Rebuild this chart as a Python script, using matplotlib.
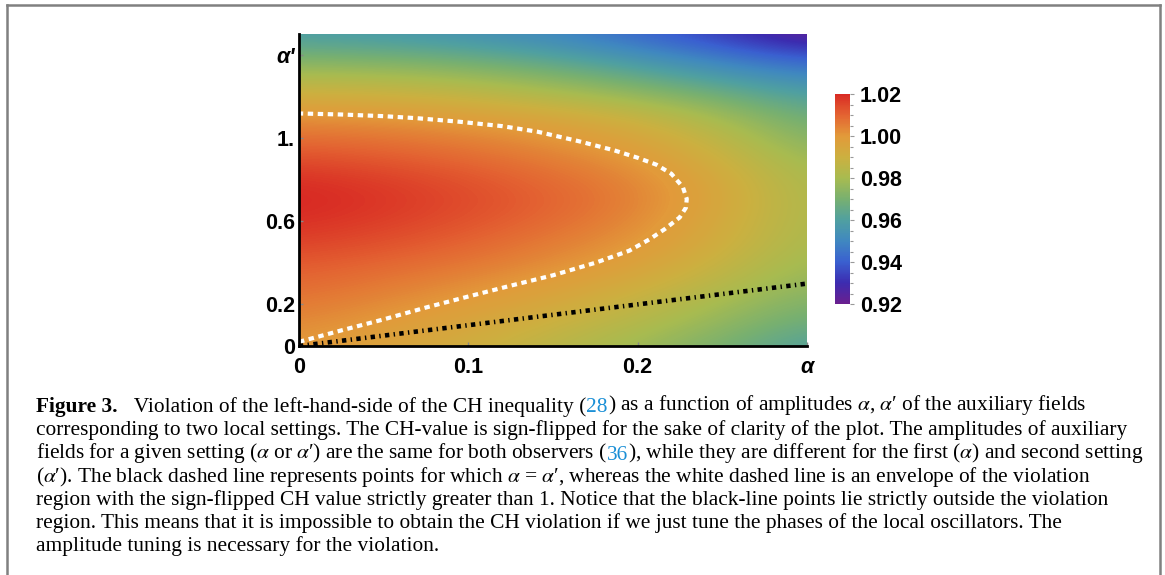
import matplotlib.pyplot as plt
from matplotlib.colors import LinearSegmentedColormap
from matplotlib.lines import Line2D
from matplotlib.ticker import MultipleLocator

# CH value (sign flipped) on a coarse grid
alpha = [0.0, 0.05, 0.1, 0.15, 0.2, 0.25, 0.3]
alpha_p = [0.0, 0.1, 0.2, 0.3, 0.4, 0.5, 0.6, 0.7, 0.8, 0.9, 1.0, 1.1, 1.2, 1.3, 1.4, 1.5]
ch_value = [
    [1.000, 0.996, 0.991, 0.985, 0.978, 0.970, 0.960],
    [1.003, 0.999, 0.9945, 0.989, 0.9825, 0.975, 0.966],
    [1.006, 1.0025, 0.9985, 0.9935, 0.987, 0.979, 0.971],
    [1.009, 1.006, 1.0025, 0.998, 0.992, 0.984, 0.975],
    [1.012, 1.0095, 1.0065, 1.0025, 0.997, 0.988, 0.978],
    [1.016, 1.0135, 1.010, 1.0055, 1.0005, 0.9915, 0.980],
    [1.019, 1.0165, 1.013, 1.0085, 1.003, 0.993, 0.981],
    [1.021, 1.018, 1.0145, 1.010, 1.0045, 0.9945, 0.981],
    [1.019, 1.0165, 1.013, 1.0085, 1.0035, 0.9935, 0.980],
    [1.014, 1.012, 1.009, 1.0052, 1.0003, 0.990, 0.977],
    [1.008, 1.0068, 1.0045, 1.0008, 0.9955, 0.9855, 0.972],
    [1.002, 1.0005, 0.998, 0.9945, 0.9885, 0.979, 0.967],
    [0.992, 0.991, 0.988, 0.983, 0.977, 0.969, 0.960],
    [0.981, 0.980, 0.977, 0.972, 0.965, 0.957, 0.950],
    [0.969, 0.968, 0.965, 0.960, 0.953, 0.945, 0.937],
    [0.959, 0.957, 0.954, 0.950, 0.942, 0.933, 0.921],
]

# white envelope (CH = 1)
env_alpha = [0.000, 0.025, 0.050, 0.075, 0.100, 0.125, 0.150, 0.175, 0.195, 0.207,
             0.216, 0.2248, 0.2285, 0.2290, 0.2267, 0.2199, 0.211, 0.200, 0.186,
             0.165, 0.141, 0.120, 0.095, 0.070, 0.050, 0.025, 0.000]
env_alpha_p = [0.020, 0.075, 0.128, 0.185, 0.238, 0.290, 0.340, 0.400, 0.458, 0.513,
               0.562, 0.618, 0.665, 0.707, 0.764, 0.828, 0.872, 0.905, 0.941,
               0.985, 1.030, 1.057, 1.078, 1.095, 1.105, 1.113, 1.118]

# black line alpha = alpha'
diag_alpha = [0.0, 0.3]
diag_alpha_p = [0.0, 0.3]

x_ticks = [0, 0.1, 0.2, 0.3]
x_labels = ['0', '0.1', '0.2', 'α']
y_ticks = [0, 0.2, 0.6, 1.0, 1.4]
y_labels = ['0', '0.2', '0.6', '1.', "α'"]
cbar_ticks = [0.92, 0.94, 0.96, 0.98, 1.00, 1.02]

rainbow = ['#6a1f8f', '#3c2cb0', '#3a60d0', '#4088c0', '#50a0a0', '#78b070',
           '#a8bb50', '#ccb040', '#e29a3a', '#e46432', '#d92b24']

plt.rcParams['font.family'] = 'Liberation Sans'
plt.rcParams['mathtext.fontset'] = 'stix'

W, H = 1165, 575
fig = plt.figure(figsize=(W / 100, H / 100), dpi=100)
ax = fig.add_axes([299 / W, 1 - 346 / H, 508 / W, 312 / H])

cmap = LinearSegmentedColormap.from_list('mma_rainbow', rainbow)
da = alpha[1] - alpha[0]
dap = alpha_p[1] - alpha_p[0]
img = ax.imshow(ch_value, origin='lower', aspect='auto', cmap=cmap, vmin=0.92, vmax=1.02,
                extent=[alpha[0] - da / 2, alpha[-1] + da / 2, alpha_p[0] - dap / 2, alpha_p[-1] + dap / 2],
                interpolation='bicubic')

ax.plot(env_alpha, env_alpha_p, color='white', lw=3.0, dashes=(1.3, 1.1), dash_capstyle='butt')
ax.plot(diag_alpha, diag_alpha_p, color='black', lw=3.3, dashes=(0.95, 0.95, 0.3, 0.95), dash_capstyle='butt')

ax.set_xlim(0, 0.3)
ax.set_ylim(0, 1.5)
for s in ['top', 'right']:
    ax.spines[s].set_visible(False)
for s in ['left', 'bottom']:
    ax.spines[s].set_linewidth(2)
ax.set_xticks(x_ticks)
ax.set_xticklabels(x_labels)
ax.set_yticks(y_ticks)
ax.set_yticklabels(y_labels)
ax.tick_params(direction='in', length=3, width=1, color='#888888', labelsize=15.5)
ax.tick_params(axis='x', pad=8)
ax.tick_params(axis='y', pad=3)
for t in ax.get_xticklabels() + ax.get_yticklabels():
    t.set_fontweight('bold')
ax.get_xticklabels()[-1].set_fontstyle('italic')
ax.get_yticklabels()[-1].set_fontstyle('italic')

cax = fig.add_axes([835 / W, 1 - 304 / H, 15 / W, 210 / H])
cb = fig.colorbar(img, cax=cax, ticks=cbar_ticks)
cb.outline.set_visible(False)
cb.ax.yaxis.set_minor_locator(MultipleLocator(0.005))
cb.ax.tick_params(which='both', direction='out', color='#999999', width=0.8, labelsize=15.5, pad=4)
cb.ax.tick_params(which='major', length=3)
cb.ax.tick_params(which='minor', length=2)
cb.ax.set_yticklabels(['%.2f' % v for v in cbar_ticks])
for t in cb.ax.get_yticklabels():
    t.set_fontweight('bold')

# caption
cap = fig.add_axes([0, 0, 1, 1])
cap.axis('off')
cap.set_xlim(0, W)
cap.set_ylim(H, 0)

blue = '#1a8fd6'
lines = [
    [('Figure 3.', 'k', 'bold'), ('   Violation of the left-hand-side of the CH inequality (', 'k', 'normal'),
     ('28', blue, 'normal'), (r') as a function of amplitudes $\alpha$, $\alpha$′ of the auxiliary fields', 'k', 'normal')],
    [('corresponding to two local settings. The CH-value is sign-flipped for the sake of clarity of the plot. The amplitudes of auxiliary', 'k', 'normal')],
    [(r'fields for a given setting ($\alpha$ or $\alpha$′) are the same for both observers (', 'k', 'normal'),
     ('36', blue, 'normal'), (r'), while they are different for the first ($\alpha$) and second setting', 'k', 'normal')],
    [(r'($\alpha$′). The black dashed line represents points for which $\alpha$ = $\alpha$′, whereas the white dashed line is an envelope of the violation', 'k', 'normal')],
    [('region with the sign-flipped CH value strictly greater than 1. Notice that the black-line points lie strictly outside the violation', 'k', 'normal')],
    [('region. This means that it is impossible to obtain the CH violation if we just tune the phases of the local oscillators. The', 'k', 'normal')],
    [('amplitude tuning is necessary for the violation.', 'k', 'normal')],
]
cap_size = 15.4
for i, segs in enumerate(lines):
    y = 412 + i * 23.2
    prev = None
    for txt, col, wt in segs:
        if prev is None:
            prev = cap.text(36, y, txt, color=col, fontweight=wt, fontsize=cap_size,
                            family='Liberation Serif', va='baseline', ha='left')
        else:
            prev = cap.annotate(txt, xy=(1, 0), xycoords=prev, color=col, fontweight=wt,
                                fontsize=cap_size, family='Liberation Serif', va='bottom', ha='left')

# panel frame
fc = '#808080'
fig.add_artist(Line2D([6.5 / W, 6.5 / W], [0, 1 - 5 / H], color=fc, lw=1.8))
fig.add_artist(Line2D([6.5 / W, 1160 / W], [1 - 5 / H, 1 - 5 / H], color=fc, lw=1.8))
fig.add_artist(Line2D([1160 / W, 1160 / W], [0, 1 - 5 / H], color=fc, lw=1.8))

fig.savefig('out.png', dpi=100)
